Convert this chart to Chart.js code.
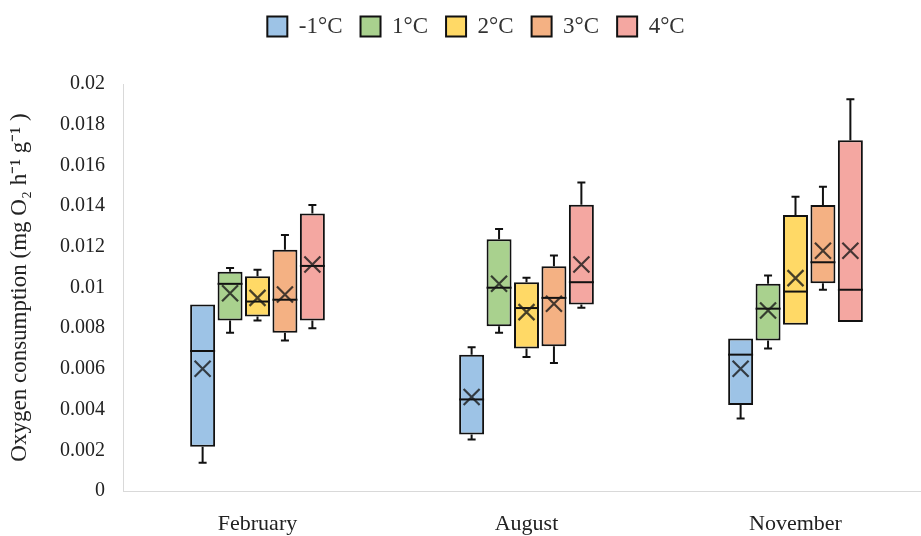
<!DOCTYPE html>
<html>
<head>
<meta charset="utf-8">
<script src="https://cdn.jsdelivr.net/npm/chart.js@4/dist/chart.umd.min.js"></script>
<style>
  html, body { margin: 0; padding: 0; background: #fff; overflow: hidden; }
  #wrap { position: relative; width: 930px; height: 536px; }
</style>
</head>
<body>
<div id="wrap"><canvas id="c"></canvas></div>
<script>
// Sampling months and acclimation temperatures
const months = ['February', 'August', 'November'];
const temps = ['-1°C', '1°C', '2°C', '3°C', '4°C'];
const fills = ['#9DC3E6', '#A9D18E', '#FFD966', '#F4B183', '#F4A7A1'];

// Box-plot statistics, one row per temperature, one column per month
const minVals = [
  [0.00139, 0.00253, 0.00356],
  [0.00778, 0.00778, 0.00700],
  [0.00838, 0.00658, 0.00817],
  [0.00740, 0.00629, 0.00989],
  [0.00800, 0.00900, 0.00830]
];
const q1Vals = [
  [0.00217, 0.00278, 0.00422],
  [0.00838, 0.00809, 0.00740],
  [0.00858, 0.00700, 0.00817],
  [0.00778, 0.00711, 0.01021],
  [0.00838, 0.00917, 0.00830]
];
const medianVals = [
  [0.00688, 0.00450, 0.00670],
  [0.01018, 0.00999, 0.00896],
  [0.00931, 0.00899, 0.00980],
  [0.00940, 0.00949, 0.01124],
  [0.01106, 0.01026, 0.00989]
];
const q3Vals = [
  [0.00917, 0.00670, 0.00749],
  [0.01078, 0.01237, 0.01018],
  [0.01055, 0.01026, 0.01356],
  [0.01185, 0.01105, 0.01405],
  [0.01364, 0.01407, 0.01724]
];
const maxVals = [
  [0.00917, 0.00707, 0.00749],
  [0.01096, 0.01288, 0.01059],
  [0.01087, 0.01048, 0.01446],
  [0.01258, 0.01157, 0.01495],
  [0.01405, 0.01516, 0.01925]
];
const meanVals = [
  [0.00601, 0.00462, 0.00601],
  [0.00972, 0.01018, 0.00887],
  [0.00949, 0.00879, 0.01046],
  [0.00966, 0.00920, 0.01181],
  [0.01113, 0.01113, 0.01181]
];
const yTicks = { min: 0, max: 0.02, step: 0.002 };

const serif = '"Liberation Serif", "Times New Roman", serif';

// Boxes are floating bars spanning the interquartile range
const datasets = temps.map((t, s) => ({
  label: t,
  data: months.map((m, i) => [q1Vals[s][i], q3Vals[s][i]]),
  backgroundColor: fills[s],
  borderColor: '#111',
  borderWidth: 2,
  borderSkipped: false
}));

// Legend row: extra room below it, nudged up and to the right
const legendPlacement = {
  id: 'legendPlacement',
  beforeUpdate(chart) {
    const lg = chart.legend;
    if (lg && !lg._gapAdded) {
      const fit = lg.fit;
      lg.fit = function () {
        fit.call(this);
        if (this.isHorizontal()) this.height += 33;
      };
      lg._gapAdded = true;
    }
  },
  afterLayout(chart) {
    const lg = chart.legend;
    if (!lg) return;
    lg.left += 11; lg.right += 11;
    lg.top -= 3; lg.bottom -= 3;
  }
};

// Whiskers, medians and mean markers placed with the chart's own scales
const boxExtras = {
  id: 'boxExtras',
  afterDatasetsDraw(chart) {
    const ys = chart.scales.y;
    const ctx = chart.ctx;
    ctx.save();
    chart.data.datasets.forEach((ds, s) => {
      const meta = chart.getDatasetMeta(s);
      if (meta.hidden) return;
      meta.data.forEach((bar, i) => {
        const { x, width } = bar.getProps(['x', 'width'], true);
        const yMin = ys.getPixelForValue(minVals[s][i]);
        const yQ1 = ys.getPixelForValue(q1Vals[s][i]);
        const yMed = ys.getPixelForValue(medianVals[s][i]);
        const yQ3 = ys.getPixelForValue(q3Vals[s][i]);
        const yMax = ys.getPixelForValue(maxVals[s][i]);
        const yMean = ys.getPixelForValue(meanVals[s][i]);
        const cap = 4;

        ctx.strokeStyle = '#111';
        ctx.lineWidth = 2;
        ctx.beginPath();
        if (maxVals[s][i] > q3Vals[s][i]) {
          ctx.moveTo(x, yQ3); ctx.lineTo(x, yMax);
          ctx.moveTo(x - cap, yMax); ctx.lineTo(x + cap, yMax);
        }
        if (minVals[s][i] < q1Vals[s][i]) {
          ctx.moveTo(x, yQ1); ctx.lineTo(x, yMin);
          ctx.moveTo(x - cap, yMin); ctx.lineTo(x + cap, yMin);
        }
        ctx.stroke();

        // median
        ctx.beginPath();
        ctx.moveTo(x - width / 2, yMed); ctx.lineTo(x + width / 2, yMed);
        ctx.stroke();

        // mean marker
        const h = 8;
        ctx.strokeStyle = 'rgba(25,25,25,0.8)';
        ctx.lineWidth = 2.2;
        ctx.beginPath();
        ctx.moveTo(x - h, yMean - h); ctx.lineTo(x + h, yMean + h);
        ctx.moveTo(x - h, yMean + h); ctx.lineTo(x + h, yMean - h);
        ctx.stroke();
      });
    });
    ctx.restore();
  }
};

new Chart(document.getElementById('c'), {
  type: 'bar',
  data: { labels: months, datasets },
  plugins: [legendPlacement, boxExtras],
  options: {
    responsive: true,
    maintainAspectRatio: false,
    animation: false,
    categoryPercentage: 0.51,
    barPercentage: 0.91,
    layout: { padding: { top: 0, left: 0, right: 0, bottom: 0 } },
    plugins: {
      tooltip: { enabled: false },
      legend: {
        position: 'top',
        labels: {
          boxWidth: 20,
          boxHeight: 20,
          padding: 18,
          color: '#333',
          font: { family: serif, size: 23 }
        }
      }
    },
    scales: {
      x: {
        grid: { display: false, drawTicks: false },
        border: { display: true, color: '#d9d9d9', width: 1 },
        ticks: { color: '#222', padding: 20, font: { family: serif, size: 22 } },
        afterFit(scale) { scale.height = 45; }
      },
      y: {
        min: yTicks.min,
        max: yTicks.max,
        grid: { display: false, drawTicks: false },
        border: { display: true, color: '#d9d9d9', width: 1 },
        ticks: {
          stepSize: yTicks.step,
          color: '#222',
          padding: 18,
          font: { family: serif, size: 20 },
          callback: v => String(Number(v.toFixed(3)))
        },
        title: {
          display: true,
          text: 'Oxygen consumption (mg O\u2082 h\u207B\u00B9 g\u207B\u00B9 )',
          color: '#222',
          font: { family: serif, size: 23 },
          padding: { top: 6, bottom: 0 }
        },
        afterFit(scale) { scale.width = 123; }
      }
    }
  }
});
</script>
</body>
</html>
